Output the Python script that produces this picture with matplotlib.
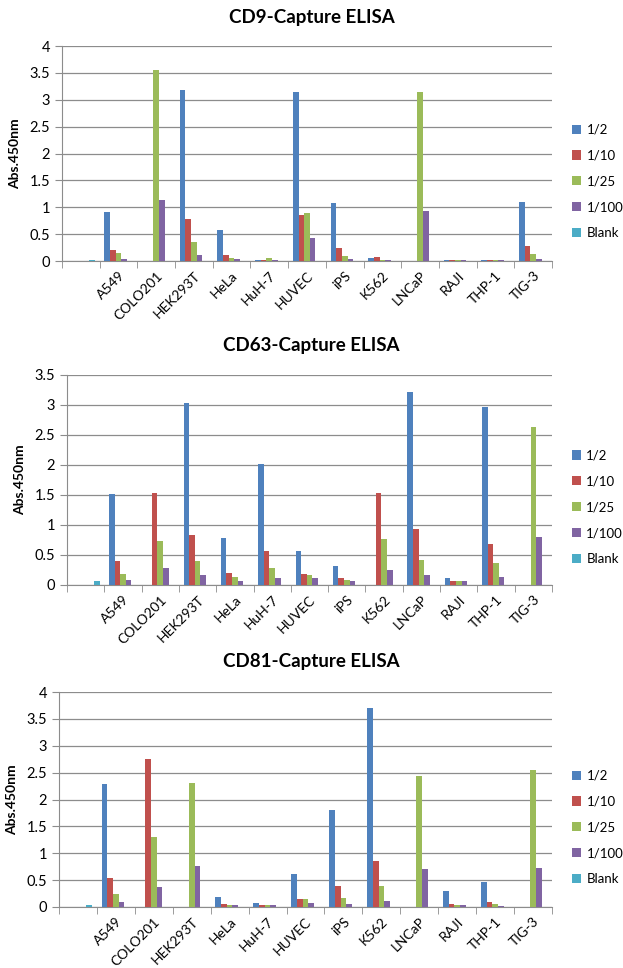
import numpy as np
import matplotlib.pyplot as plt
from matplotlib.ticker import FixedLocator, FormatStrFormatter

plt.rcParams['font.family'] = ['Lato', 'DejaVu Sans']

categories = ['', 'A549', 'COLO201', 'HEK293T', 'HeLa', 'HuH-7', 'HUVEC',
              'iPS', 'K562', 'LNCaP', 'RAJI', 'THP-1', 'TIG-3']
series_names = ['1/2', '1/10', '1/25', '1/100', 'Blank']
colors = ['#4F81BD', '#C0504D', '#9BBB59', '#8064A2', '#4BACC6']

# CD9 capture
cd9_d2 = [0, 0.92, 0, 3.19, 0.58, 0.02, 3.14, 1.07, 0.05, 0, 0.02, 0.02, 1.10]
cd9_d10 = [0, 0.20, 0, 0.79, 0.12, 0.02, 0.85, 0.24, 0.08, 0, 0.02, 0.02, 0.27]
cd9_d25 = [0, 0.15, 3.56, 0.36, 0.06, 0.06, 0.89, 0.09, 0.02, 3.14, 0.02, 0.02, 0.13]
cd9_d100 = [0, 0.04, 1.13, 0.11, 0.03, 0.02, 0.43, 0.04, 0.02, 0.93, 0.02, 0.02, 0.04]
cd9_blank = [0.02, 0, 0, 0, 0, 0, 0, 0, 0, 0, 0, 0, 0]

# CD63 capture
cd63_d2 = [0, 1.52, 0, 3.03, 0.78, 2.02, 0.56, 0.32, 0, 3.22, 0.11, 2.96, 0]
cd63_d10 = [0, 0.40, 1.54, 0.83, 0.20, 0.56, 0.18, 0.11, 1.54, 0.94, 0.06, 0.69, 0]
cd63_d25 = [0, 0.19, 0.73, 0.40, 0.14, 0.28, 0.17, 0.08, 0.77, 0.42, 0.07, 0.36, 2.63]
cd63_d100 = [0, 0.09, 0.29, 0.16, 0.07, 0.12, 0.12, 0.07, 0.25, 0.16, 0.06, 0.13, 0.80]
cd63_blank = [0.07, 0, 0, 0, 0, 0, 0, 0, 0, 0, 0, 0, 0]

# CD81 capture
cd81_d2 = [0, 2.28, 0, 0, 0.19, 0.08, 0.61, 1.80, 3.71, 0, 0.30, 0.46, 0]
cd81_d10 = [0, 0.54, 2.76, 0, 0.05, 0.04, 0.15, 0.39, 0.86, 0, 0.06, 0.09, 0]
cd81_d25 = [0, 0.24, 1.31, 2.30, 0.03, 0.03, 0.14, 0.16, 0.40, 2.43, 0.03, 0.05, 2.54]
cd81_d100 = [0, 0.09, 0.37, 0.77, 0.03, 0.03, 0.08, 0.05, 0.12, 0.70, 0.03, 0.02, 0.73]
cd81_blank = [0.04, 0, 0, 0, 0, 0, 0, 0, 0, 0, 0, 0, 0]

panels = [
    ('CD9-Capture ELISA', [cd9_d2, cd9_d10, cd9_d25, cd9_d100, cd9_blank], 4,
     (62, 46, 552, 261), 17),
    ('CD63-Capture ELISA', [cd63_d2, cd63_d10, cd63_d25, cd63_d100, cd63_blank], 3.5,
     (67, 375, 552, 585), 346),
    ('CD81-Capture ELISA', [cd81_d2, cd81_d10, cd81_d25, cd81_d100, cd81_blank], 4,
     (59, 692, 552, 907), 662),
]

W, H = 623, 968
fig = plt.figure(figsize=(W / 100, H / 100), dpi=100)

x = np.arange(len(categories))
bw = 0.15

for title, data, ymax, (l, t, r, b), ty in panels:
    ax = fig.add_axes([l / W, 1 - b / H, (r - l) / W, (b - t) / H])
    for i, vals in enumerate(data):
        ax.bar(x + (i - 2) * bw, vals, width=bw, color=colors[i],
               label=series_names[i], zorder=3)
    ax.set_xlim(-0.5, len(categories) - 0.5)
    ax.set_ylim(0, ymax)
    ax.set_yticks(np.arange(0, ymax + 0.01, 0.5))
    ax.yaxis.set_major_formatter(FormatStrFormatter('%g'))
    ax.grid(axis='y', color='#8c8c8c', linewidth=0.9, zorder=0)
    for s in ['top', 'right']:
        ax.spines[s].set_visible(False)
    ax.spines['left'].set_color('#8c8c8c')
    ax.spines['bottom'].set_color('#8c8c8c')
    ax.set_xticks(x)
    ax.set_xticklabels(categories, rotation=45, ha='right',
                       rotation_mode='anchor', fontsize=10)
    ax.tick_params(axis='x', which='major', length=0, pad=6)
    ax.xaxis.set_minor_locator(FixedLocator(np.arange(-0.5, len(categories), 1)))
    ax.tick_params(axis='x', which='minor', length=5, color='#8c8c8c')
    ax.tick_params(axis='y', length=5, color='#8c8c8c', labelsize=10.5)
    ax.set_ylabel('Abs.450nm', fontsize=10, fontweight='bold', labelpad=6)
    fig.text(0.5, 1 - ty / H, title, fontsize=13.5, fontweight='bold',
             ha='center', va='center')
    ax.legend(loc='center left', bbox_to_anchor=(1.03, 0.37), frameon=False,
              fontsize=9.5, handlelength=0.7, handleheight=0.7,
              handletextpad=0.4, labelspacing=1.05, borderaxespad=0)

fig.savefig('out.png', dpi=100)
